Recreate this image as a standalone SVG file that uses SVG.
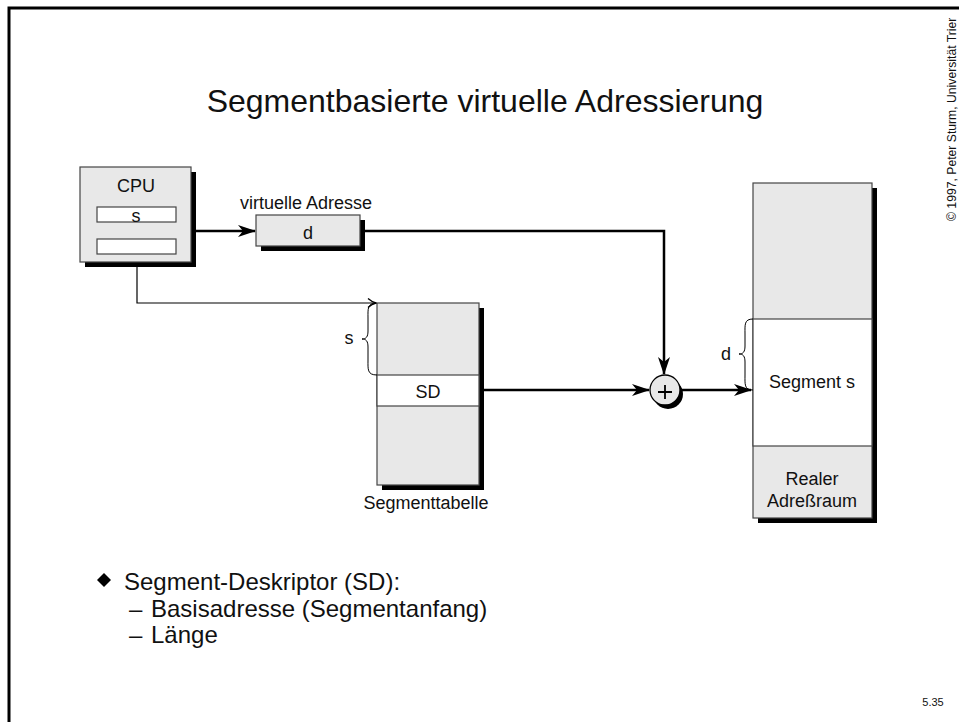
<svg xmlns="http://www.w3.org/2000/svg" width="959" height="722" viewBox="0 0 959 722">
  <style>
    text { font-family: "Liberation Sans", Arial, sans-serif; fill: #111; }
    .box { fill: #e8e8e8; stroke: #444; stroke-width: 1.2; }
    .cell { fill: #fff; stroke: #444; stroke-width: 1.2; }
    .shadow { fill: #000; }
    .wire { fill: none; stroke: #000; stroke-width: 2.5; }
    .thin { fill: none; stroke: #000; stroke-width: 1.2; }
    .brace { fill: none; stroke: #000; stroke-width: 1; }
    .lbl { font-size: 18px; text-anchor: middle; }
  </style>
  <defs>
    <marker id="arrow" viewBox="0 0 18 12" refX="17" refY="6" markerWidth="18" markerHeight="12" markerUnits="userSpaceOnUse" orient="auto">
      <path d="M0,0 L18,6 L0,12 L5,6 Z" fill="#000"/>
    </marker>
    <marker id="arrowThin" viewBox="0 0 10 10" refX="9" refY="5" markerWidth="10" markerHeight="10" markerUnits="userSpaceOnUse" orient="auto">
      <path d="M1,0.5 Q5,4 9,5 Q5,6 1,9.5" fill="none" stroke="#000" stroke-width="1.3"/>
    </marker>
  </defs>

  <rect width="959" height="722" fill="#fff"/>
  <!-- slide frame -->
  <path d="M9,722 V8 H959" fill="none" stroke="#000" stroke-width="3"/>

  <text x="485" y="112" font-size="32" text-anchor="middle">Segmentbasierte virtuelle Adressierung</text>
  <text transform="translate(956,221) rotate(-90)" font-size="12.2">© 1997, Peter Sturm, Universität Trier</text>

  <!-- connectors -->
  <g id="connectors">
    <path class="wire" d="M196,231 H255" marker-end="url(#arrow)"/>
    <path class="wire" d="M365,231 H664 V374" marker-end="url(#arrow)"/>
    <path class="thin" d="M137,254 V303 H376" marker-end="url(#arrowThin)"/>
    <path class="wire" d="M484,390 H649" marker-end="url(#arrow)"/>
    <path class="wire" d="M681,390 H751" marker-end="url(#arrow)"/>
  </g>

  <g id="cpu">
    <rect class="shadow" x="85" y="172" width="111" height="95"/>
    <rect class="box" x="80" y="167" width="111" height="95"/>
    <text class="lbl" x="136" y="192">CPU</text>
    <rect class="cell" x="97" y="207" width="79" height="15"/>
    <text class="lbl" x="136" y="222">s</text>
    <rect class="cell" x="97" y="239" width="79" height="15"/>
  </g>

  <g id="virtual-address">
    <text class="lbl" x="306" y="209">virtuelle Adresse</text>
    <rect class="shadow" x="261" y="220" width="104" height="31"/>
    <rect class="box" x="256" y="215" width="104" height="31"/>
    <text class="lbl" x="308" y="239">d</text>
  </g>

  <g id="segment-table">
    <rect class="shadow" x="382" y="308" width="102" height="182"/>
    <rect class="box" x="377" y="303" width="102" height="182"/>
    <rect class="cell" x="377" y="375" width="102" height="31"/>
    <text class="lbl" x="428" y="398">SD</text>
    <path class="brace" d="M377,303 C367,303 368,309 368,318 V331 C368,337 366,339 362,339 C366,339 368,341 368,347 V360 C368,369 367,375 377,375"/>
    <text class="lbl" x="349" y="344">s</text>
    <text class="lbl" x="426" y="509">Segmenttabelle</text>
  </g>

  <g id="adder">
    <circle class="shadow" cx="668" cy="394" r="15"/>
    <circle cx="665" cy="390" r="15" fill="#e8e8e8" stroke="#000" stroke-width="1.3"/>
    <path d="M658,392 H672 M665,385 V399" stroke="#000" stroke-width="1.8"/>
  </g>

  <g id="real-memory">
    <rect class="shadow" x="758" y="188" width="119" height="335"/>
    <rect class="box" x="753" y="183" width="119" height="335"/>
    <rect class="cell" x="753" y="319" width="119" height="127"/>
    <text class="lbl" x="812" y="388">Segment s</text>
    <text class="lbl" x="812" y="485">Realer</text>
    <text class="lbl" x="812" y="507">Adreßraum</text>
    <path class="brace" d="M753,319 C744,319 745,325 745,334 V346 C745,352 743,354 739,354 C743,354 745,356 745,362 V375 C745,384 744,390 753,390"/>
    <text class="lbl" x="726" y="360">d</text>
  </g>

  <g id="notes">
    <path d="M104,573 L111,580 L104,587 L97,580 Z" fill="#000"/>
    <text x="124" y="590" font-size="24">Segment-Deskriptor (SD):</text>
    <text x="129" y="617" font-size="24">–</text>
    <text x="151" y="617" font-size="24">Basisadresse (Segmentanfang)</text>
    <text x="129" y="643" font-size="24">–</text>
    <text x="151" y="643" font-size="24">Länge</text>
    <text x="933" y="706" font-size="11" text-anchor="middle">5.35</text>
  </g>
</svg>
